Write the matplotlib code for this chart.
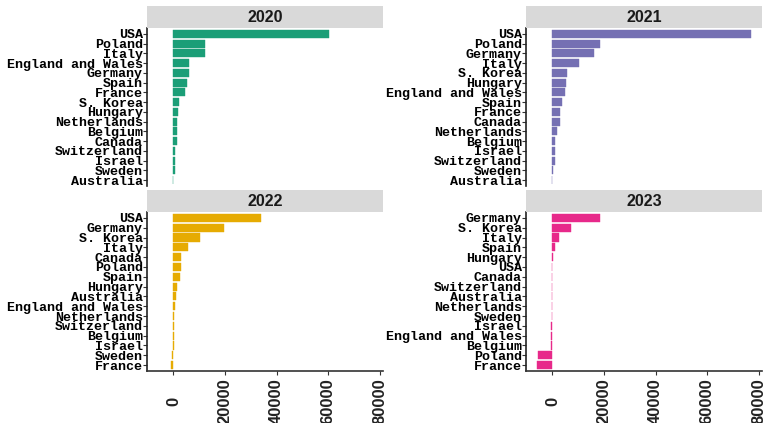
import matplotlib
matplotlib.use("Agg")
import matplotlib.pyplot as plt
from matplotlib.patches import Rectangle

years = ["2020", "2021", "2022", "2023"]
colors = ["#1B9E77", "#7570B3", "#E6AB02", "#E7298A"]

countries_2020 = ["USA", "Poland", "Italy", "England and Wales", "Germany", "Spain",
                  "France", "S. Korea", "Hungary", "Netherlands", "Belgium", "Canada",
                  "Switzerland", "Israel", "Sweden", "Australia"]
values_2020 = [60400, 12400, 12400, 6200, 6200, 5400, 4600, 2300, 1900, 1550, 1550,
               1550, 770, 770, 770, -300]

countries_2021 = ["USA", "Poland", "Germany", "Italy", "S. Korea", "Hungary",
                  "England and Wales", "Spain", "France", "Canada", "Netherlands",
                  "Belgium", "Israel", "Switzerland", "Sweden", "Australia"]
values_2021 = [77100, 18300, 16000, 10200, 5550, 5150, 4750, 3600, 2850, 2850, 1700,
               900, 900, 900, 400, -260]

countries_2022 = ["USA", "Germany", "S. Korea", "Italy", "Canada", "Poland", "Spain",
                  "Hungary", "Australia", "England and Wales", "Netherlands",
                  "Switzerland", "Belgium", "Israel", "Sweden", "France"]
values_2022 = [34100, 19700, 10400, 5800, 3100, 3100, 2700, 1550, 1150, 770, 390,
               250, 390, 390, -390, -770]

countries_2023 = ["Germany", "S. Korea", "Italy", "Spain", "Hungary", "USA", "Canada",
                  "Switzerland", "Australia", "Netherlands", "Sweden", "Israel",
                  "England and Wales", "Belgium", "Poland", "France"]
values_2023 = [18300, 7100, 2450, 900, 390, -300, -250, -250, -250, -250, -250, -645,
               -645, -645, -5700, -6100]

x_ticks = [0, 20000, 40000, 60000, 80000]
x_tick_labels = ["0", "20000", "40000", "60000", "80000"]

all_countries = [countries_2020, countries_2021, countries_2022, countries_2023]
all_values = [values_2020, values_2021, values_2022, values_2023]

W, H = 771, 423
fig = plt.figure(figsize=(W / 100, H / 100), dpi=100)
fig.patch.set_facecolor("white")

def fx(px):
    return px / W

def fy(py):
    return 1 - py / H

# panel pixel boxes: (left, right, strip_top, plot_top, plot_bottom)
panels = [
    (147, 383, 6, 28, 186),
    (526, 762, 6, 28, 186),
    (147, 383, 190, 212, 371),
    (526, 762, 190, 212, 371),
]

vmin = min(min(v) for v in all_values)
vmax = max(max(v) for v in all_values)
rng = vmax - vmin
xlim = (vmin - 0.05 * rng, vmax + 0.05 * rng)

for i, (l, r, st, pt, pb) in enumerate(panels):
    ax = fig.add_axes([fx(l), fy(pb), fx(r) - fx(l), fy(pt) - fy(pb)])
    cats = all_countries[i]
    vals = all_values[i]
    n = len(cats)
    ypos = list(range(n, 0, -1))
    ax.barh(ypos, vals, height=0.83, color=colors[i], edgecolor=colors[i],
            linewidth=0.3)
    ax.set_ylim(0.4, n + 0.6)
    ax.set_xlim(*xlim)
    ax.set_yticks(ypos)
    ax.set_yticklabels(cats, fontfamily="Liberation Mono", fontweight="bold",
                       fontsize=9.6, color="black")
    ax.tick_params(axis="y", length=3, width=0.8, color="#333333", pad=0)
    for s in ["top", "right"]:
        ax.spines[s].set_visible(False)
    ax.spines["left"].set_linewidth(1.2)
    ax.spines["left"].set_color("#222222")
    if i >= 2:
        ax.spines["bottom"].set_linewidth(1.2)
        ax.spines["bottom"].set_color("#333333")
        ax.set_xticks(x_ticks)
        ax.set_xticklabels(x_tick_labels, rotation=90, fontfamily="Liberation Sans",
                           fontweight="bold", fontsize=12, color="#222222")
        for lab in ax.get_xticklabels():
            lab.set_verticalalignment("center")
        ax.tick_params(axis="x", length=3, width=0.8, color="#333333", pad=19)
    else:
        ax.spines["bottom"].set_visible(False)
        ax.set_xticks([])
    # strip
    fig.patches.append(Rectangle((fx(l), fy(pt)), fx(r) - fx(l), fy(st) - fy(pt),
                                 transform=fig.transFigure, facecolor="#D9D9D9",
                                 edgecolor="none", zorder=0))
    fig.text((fx(l) + fx(r)) / 2, (fy(st) + fy(pt)) / 2, years[i],
             ha="center", va="center", fontfamily="Liberation Sans",
             fontweight="bold", fontsize=11.5, color="#1A1A1A")

fig.savefig("out.png", dpi=100)
